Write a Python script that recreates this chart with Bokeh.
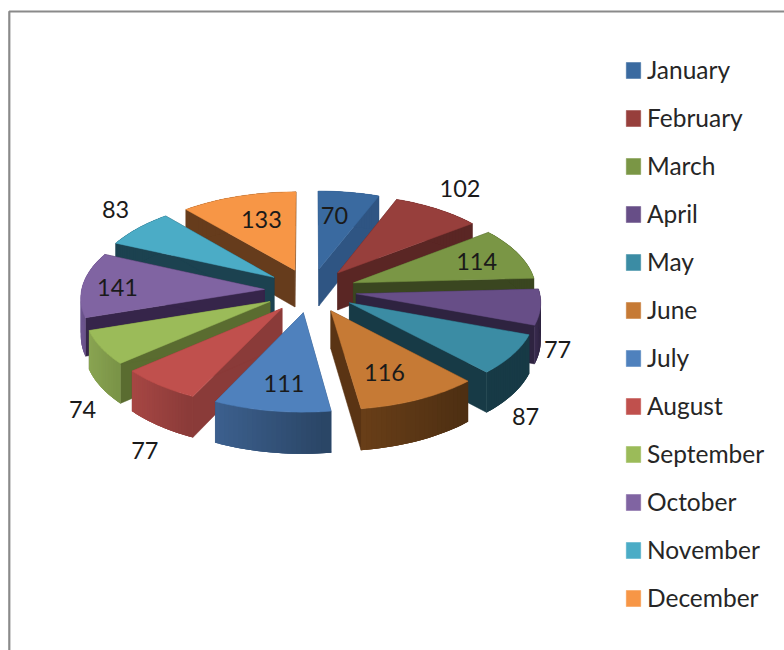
import math
from bokeh.plotting import figure
from bokeh.models import Range1d, Legend, LegendItem, ColumnDataSource
from bokeh.core.properties import value
from bokeh.embed import file_html
from bokeh.resources import INLINE

months = ["January", "February", "March", "April", "May", "June", "July",
          "August", "September", "October", "November", "December"]
counts = [70, 102, 114, 77, 87, 116, 111, 77, 74, 141, 83, 133]

top_colors = ["#3A6AA0", "#973F3C", "#7A9645", "#674E87", "#3B8CA4", "#C67A35",
              "#4F81BD", "#C0504D", "#9BBB59", "#8064A2", "#4BACC6", "#F79646"]
cut_colors = ["#2F5583", "#5A2624", "#3A4620", "#2E2340", "#173A46", "#5A3414",
              "#2F4D74", "#8A3B39", "#5A6C30", "#36254A", "#1C4250", "#663C1C"]
rim_light = ["#2F5583", "#5A2624", "#3A4620", "#3C2D52", "#173A46", "#6A3F18",
             "#3D6190", "#A84744", "#8AA552", "#6E5690", "#1C4250", "#663C1C"]
rim_dark = ["#2F5583", "#5A2624", "#3A4620", "#2E2340", "#173A46", "#4E2F12",
            "#2A4565", "#8A3B39", "#7A9347", "#553F72", "#1C4250", "#663C1C"]

# label placement: fraction of the slice radius, then a pixel nudge
label_frac = [0.70, 1.20, 0.75, 1.15, 1.15, 0.70, 0.75, 1.20, 1.15, 0.82, 1.15, 0.70]
label_dx = [-6, 4, -1, -11, -13, -7, 4, 12, 8, 2, -3, 7]
label_dy = [1, -9, 1, 40, 54, 1, -1, 49, 55, 2, -12, 2]

# pie projection
CX, CY, F, K, PERSP, EXPLODE, DEPTH = 310, 290, 183, 0.479, 0.08, 0.252, 37.5


def project(px, py, z=0):
    s = 1 / (1 + PERSP * py)
    return CX + F * px * s, CY - F * K * py * s + DEPTH * z * s


def mix(a, b, t):
    ca = [int(a[i:i + 2], 16) for i in (1, 3, 5)]
    cb = [int(b[i:i + 2], 16) for i in (1, 3, 5)]
    return "#%02x%02x%02x" % tuple(round(u + (v - u) * t) for u, v in zip(ca, cb))


p = figure(width=784, height=650, x_range=Range1d(0, 784), y_range=Range1d(650, 0),
           output_backend="svg", toolbar_location=None, min_border=0,
           x_axis_type=None, y_axis_type=None)
p.grid.visible = False
p.outline_line_color = None

total = sum(counts)
slices = []
acc = 0
for i, c in enumerate(counts):
    a0 = acc / total * 2 * math.pi
    acc += c
    a1 = acc / total * 2 * math.pi
    slices.append((i, a0, a1, (a0 + a1) / 2))

top_renderers = {}
for i, a0, a1, am in sorted(slices, key=lambda s: -math.cos(s[3])):
    ox, oy = EXPLODE * math.sin(am), EXPLODE * math.cos(am)
    n = 24
    arc = [(ox + math.sin(a0 + (a1 - a0) * j / n), oy + math.cos(a0 + (a1 - a0) * j / n))
           for j in range(n + 1)]
    # the two cut faces
    for (ex, ey) in (arc[0], arc[-1]):
        pts = [project(ox, oy), project(ex, ey), project(ex, ey, 1), project(ox, oy, 1)]
        p.patch([q[0] for q in pts], [q[1] for q in pts], fill_color=cut_colors[i],
                line_color=cut_colors[i], line_width=0.5)
    # the rim, shaded from its left end to its right end on screen; each strip
    # overlaps the next one so that no seams show
    xs_all = [project(*q)[0] for q in arc]
    lo, hi = min(xs_all), max(xs_all)
    order = range(n) if xs_all[0] <= xs_all[-1] else range(n - 1, -1, -1)
    for j in order:
        q0, q1 = arc[max(j - 1, 0)], arc[min(j + 2, n)]
        pts = [project(*q0), project(*arc[j]), project(*q1), project(*q1, 1), project(*arc[j], 1), project(*q0, 1)]
        t = ((project(*arc[j])[0] + project(*arc[j + 1])[0]) / 2 - lo) / max(hi - lo, 1)
        col = mix(rim_light[i], rim_dark[i], t)
        p.patch([q[0] for q in pts], [q[1] for q in pts], fill_color=col, line_color=None)
    # the top face
    pts = [project(ox, oy)] + [project(*q) for q in arc]
    top_renderers[i] = p.patch([q[0] for q in pts], [q[1] for q in pts],
                               fill_color=top_colors[i], line_color=top_colors[i], line_width=0.5)

# value labels
lx, ly = [], []
for i, a0, a1, am in slices:
    ox, oy = EXPLODE * math.sin(am), EXPLODE * math.cos(am)
    x, y = project(ox + label_frac[i] * math.sin(am), oy + label_frac[i] * math.cos(am))
    lx.append(x)
    ly.append(y)
src = ColumnDataSource(dict(x=lx, y=ly, text=[str(c) for c in counts],
                            dx=label_dx, dy=label_dy))
p.text("x", "y", text="text", x_offset="dx", y_offset="dy", source=src,
       text_font=value("Lato"), text_font_size="23.5px", text_color="#1a1a1a",
       text_align="center", text_baseline="middle")

# chart frame: top and left edges only
p.line([784, 8.8, 8.8], [11, 11, 650], line_color="#8a8a8a", line_width=2.2)

legend = Legend(items=[LegendItem(label=m, renderers=[top_renderers[i]])
                       for i, m in enumerate(months)],
                location=(624, 38), glyph_width=18, glyph_height=20, label_standoff=5,
                spacing=19, padding=0, margin=0, border_line_color=None,
                background_fill_alpha=0, label_text_font="Lato",
                label_text_font_size="24.5px", label_text_color="#262626")
p.add_layout(legend, "center")

open("out.html", "w").write(file_html(p, INLINE))
